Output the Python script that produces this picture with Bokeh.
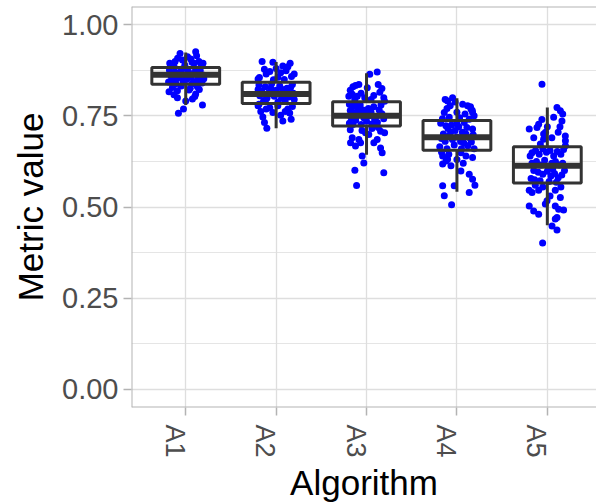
import math
from bokeh.plotting import figure
from bokeh.models import Range1d, FixedTicker, Span, NumeralTickFormatter, LinearAxis
from bokeh.embed import file_html
from bokeh.resources import INLINE

categories = ["A1", "A2", "A3", "A4", "A5"]

# Box statistics
q1 = [0.837, 0.784, 0.722, 0.656, 0.566]
median = [0.863, 0.810, 0.750, 0.691, 0.613]
q3 = [0.883, 0.842, 0.789, 0.737, 0.665]
whisker_lo = [0.780, 0.716, 0.643, 0.542, 0.450]
whisker_hi = [0.924, 0.898, 0.867, 0.798, 0.773]

# Jittered observations: (jitter offset, value)
a1_points = [
    (0.11, 0.926), (-0.063, 0.921), (-0.118, 0.899), (-0.177, 0.894), (-0.036, 0.903),
    (0.055, 0.906), (0.147, 0.899), (0.191, 0.894), (0.092, 0.894), (-0.15, 0.888),
    (0.17, 0.890), (0.02, 0.912), (-0.09, 0.908), (0.12, 0.915), (-0.01, 0.889),
    (0.07, 0.897), (-0.13, 0.886),
    (-0.18, 0.875), (-0.12, 0.87), (-0.05, 0.878), (0.03, 0.872), (0.1, 0.868),
    (0.16, 0.875), (0.19, 0.862), (-0.16, 0.858), (-0.08, 0.865), (0.0, 0.86),
    (0.06, 0.855), (0.13, 0.85), (-0.14, 0.848), (-0.03, 0.845), (0.09, 0.842),
    (0.18, 0.84), (-0.19, 0.843), (-0.1, 0.852), (0.04, 0.864), (0.15, 0.866),
    (-0.06, 0.87), (0.11, 0.878), (-0.17, 0.866), (0.01, 0.85), (-0.11, 0.838),
    (0.07, 0.838), (0.2, 0.852), (-0.02, 0.88), (0.14, 0.858), (-0.07, 0.856),
    (-0.185, 0.816), (-0.092, 0.819), (-0.092, 0.800), (0.036, 0.821), (0.11, 0.810),
    (0.074, 0.796), (0.0, 0.791), (-0.025, 0.769), (-0.081, 0.757), (0.185, 0.780),
    (-0.147, 0.828), (0.129, 0.830), (0.166, 0.842), (-0.05, 0.832), (0.05, 0.826),
    (-0.13, 0.808), (0.15, 0.822), (0.1, 0.803),
]
a2_points = [
    (-0.155, 0.899), (-0.036, 0.897), (0.155, 0.894), (0.2, 0.865), (0.074, 0.887),
    (-0.11, 0.865), (-0.185, 0.855), (0.11, 0.874), (-0.2, 0.851), (0.0, 0.88),
    (-0.07, 0.872), (0.05, 0.868), (0.17, 0.858), (-0.13, 0.878), (0.13, 0.885),
    (0.02, 0.856), (-0.03, 0.849), (0.09, 0.850),
    (-0.19, 0.835), (-0.12, 0.83), (-0.05, 0.838), (0.04, 0.832), (0.12, 0.826),
    (0.18, 0.836), (-0.16, 0.818), (-0.08, 0.814), (0.0, 0.82), (0.08, 0.81),
    (0.15, 0.815), (-0.18, 0.805), (-0.1, 0.8), (-0.02, 0.804), (0.06, 0.798),
    (0.14, 0.802), (0.2, 0.795), (-0.14, 0.79), (0.02, 0.788), (0.1, 0.79),
    (-0.06, 0.826), (0.16, 0.828), (-0.2, 0.822), (0.07, 0.822), (-0.04, 0.812),
    (0.11, 0.806), (-0.11, 0.796), (0.19, 0.812),
    (-0.2, 0.778), (-0.147, 0.747), (-0.103, 0.716), (-0.129, 0.732), (-0.036, 0.759),
    (0.074, 0.736), (0.166, 0.741), (0.129, 0.769), (0.019, 0.778), (-0.11, 0.769),
    (-0.19, 0.782), (0.18, 0.776), (0.05, 0.752), (-0.07, 0.772), (0.1, 0.762),
    (0.15, 0.758), (-0.17, 0.762),
]
a3_points = [
    (0.118, 0.870), (0.036, 0.864), (0.129, 0.836), (-0.122, 0.833), (-0.085, 0.836),
    (0.147, 0.815), (0.191, 0.800), (-0.158, 0.809), (-0.196, 0.804), (-0.103, 0.804),
    (0.008, 0.827), (-0.15, 0.83), (-0.18, 0.82), (-0.06, 0.812), (0.17, 0.825),
    (0.08, 0.806), (-0.13, 0.795), (0.05, 0.795), (0.2, 0.79), (-0.02, 0.80),
    (-0.19, 0.782), (-0.16, 0.775), (-0.13, 0.785), (-0.1, 0.77), (-0.18, 0.765),
    (-0.14, 0.758), (-0.11, 0.75), (-0.17, 0.745), (-0.12, 0.738), (-0.19, 0.73),
    (-0.07, 0.78), (-0.04, 0.766), (-0.01, 0.755), (0.02, 0.77), (0.05, 0.76),
    (0.08, 0.775), (0.11, 0.748), (0.14, 0.766), (0.17, 0.756), (0.19, 0.742),
    (0.0, 0.735), (0.06, 0.728), (-0.06, 0.726), (0.12, 0.732), (-0.15, 0.726),
    (0.16, 0.78), (-0.03, 0.745), (0.09, 0.74), (-0.08, 0.76), (0.03, 0.75),
    (-0.158, 0.690), (-0.177, 0.676), (-0.122, 0.667), (-0.066, 0.676), (0.025, 0.699),
    (0.118, 0.685), (0.155, 0.708), (0.081, 0.676), (0.2, 0.704), (0.155, 0.662),
    (0.173, 0.649), (-0.048, 0.640), (-0.03, 0.621), (-0.129, 0.601), (0.191, 0.594),
    (-0.11, 0.559), (-0.085, 0.685), (-0.011, 0.704), (-0.18, 0.712), (0.06, 0.715),
    (0.13, 0.718), (-0.05, 0.71),
]
a4_points = [
    (-0.048, 0.800), (-0.103, 0.791), (-0.074, 0.778), (0.063, 0.782), (0.118, 0.778),
    (0.155, 0.769), (0.173, 0.759), (-0.14, 0.759), (-0.085, 0.746), (0.136, 0.741),
    (-0.13, 0.795), (0.15, 0.775), (0.17, 0.765), (-0.11, 0.77), (0.0, 0.76),
    (0.09, 0.755), (-0.02, 0.788), (0.03, 0.745), (-0.16, 0.742), (0.19, 0.75),
    (0.081, 0.732), (-0.122, 0.723), (0.173, 0.714), (-0.18, 0.73), (-0.15, 0.70),
    (-0.1, 0.715), (-0.06, 0.725), (-0.02, 0.71), (0.02, 0.72), (0.06, 0.705),
    (0.1, 0.70), (0.14, 0.69), (0.18, 0.698), (-0.17, 0.688), (-0.13, 0.68),
    (-0.09, 0.695), (-0.05, 0.685), (0.0, 0.692), (0.04, 0.68), (0.08, 0.675),
    (0.12, 0.668), (0.16, 0.678), (-0.19, 0.665), (-0.11, 0.66), (-0.03, 0.67),
    (0.05, 0.66), (0.11, 0.718), (-0.07, 0.705), (0.19, 0.66), (0.0, 0.728),
    (-0.158, 0.640), (-0.103, 0.631), (-0.066, 0.613), (-0.158, 0.618), (0.173, 0.636),
    (0.044, 0.599), (0.136, 0.590), (0.173, 0.576), (0.199, 0.560), (0.136, 0.540),
    (-0.158, 0.558), (-0.03, 0.558), (-0.14, 0.531), (-0.059, 0.506), (0.044, 0.649),
    (0.1, 0.640), (-0.12, 0.626), (-0.17, 0.65), (0.0, 0.63), (0.07, 0.62),
    (-0.09, 0.645),
]
a5_points = [
    (-0.059, 0.837), (0.107, 0.773), (0.144, 0.764), (0.162, 0.736), (0.07, 0.746),
    (-0.096, 0.727), (-0.114, 0.718), (-0.2, 0.714), (-0.041, 0.700), (0.199, 0.695),
    (0.2, 0.682), (-0.041, 0.686), (0.2, 0.668), (-0.077, 0.673), (0.0, 0.72),
    (-0.02, 0.705), (0.12, 0.705), (-0.15, 0.69), (0.05, 0.69), (0.17, 0.755),
    (-0.06, 0.74), (0.14, 0.72),
    (-0.169, 0.649), (-0.19, 0.64), (-0.13, 0.655), (-0.09, 0.645), (-0.05, 0.66),
    (-0.01, 0.65), (0.03, 0.655), (0.07, 0.64), (0.11, 0.652), (0.15, 0.645),
    (0.18, 0.658), (-0.17, 0.62), (-0.12, 0.625), (-0.07, 0.615), (-0.03, 0.628),
    (0.01, 0.61), (0.05, 0.62), (0.09, 0.625), (0.13, 0.615), (0.17, 0.62),
    (-0.15, 0.6), (-0.1, 0.595), (-0.05, 0.59), (0.0, 0.598), (0.04, 0.585),
    (0.08, 0.592), (0.12, 0.58), (0.16, 0.588), (-0.18, 0.578), (-0.08, 0.572),
    (0.02, 0.57), (0.1, 0.568), (0.19, 0.6), (-0.14, 0.575), (0.06, 0.605),
    (-0.2, 0.546), (-0.169, 0.540), (-0.096, 0.546), (0.088, 0.546), (-0.003, 0.517),
    (-0.022, 0.508), (0.088, 0.503), (0.125, 0.494), (-0.2, 0.503), (0.18, 0.492),
    (-0.096, 0.480), (0.107, 0.471), (0.088, 0.467), (0.052, 0.448), (0.107, 0.437),
    (-0.052, 0.401), (-0.151, 0.489), (0.144, 0.526), (-0.133, 0.56), (0.03, 0.53),
    (-0.05, 0.555), (0.15, 0.555),
]
group_points = [a1_points, a2_points, a3_points, a4_points, a5_points]

y_ticks = [0.0, 0.25, 0.5, 0.75, 1.0]
y_minor = [0.125, 0.375, 0.625, 0.875]

BORDER = "#B3B3B3"
GRID = "#DEDEDE"
BOX = "#333333"
FONT = "Liberation Sans"
LABEL_SHIFT = 0.12  # rotated category labels sit left of their tick

p = figure(width=596, height=504,
           x_range=Range1d(0.4, 5.544), y_range=Range1d(-0.05, 1.05),
           output_backend="svg", toolbar_location=None,
           min_border_left=131, min_border_right=0,
           min_border_top=6, min_border_bottom=97)
p.outline_line_color = None
p.background_fill_color = "white"
p.border_fill_color = "white"

xpos = list(range(1, len(categories) + 1))

# grid
p.xgrid.ticker = FixedTicker(ticks=xpos)
p.ygrid.ticker = FixedTicker(ticks=y_ticks, minor_ticks=y_minor)
p.grid.grid_line_color = GRID
p.grid.grid_line_width = 1.3
p.ygrid.minor_grid_line_color = GRID
p.ygrid.minor_grid_line_width = 0.8

# points
xs, ys = [], []
for i, pts in enumerate(group_points):
    for off, v in pts:
        xs.append(xpos[i] + off)
        ys.append(v)
p.scatter(xs, ys, size=7, fill_color="#0000FF", line_color=None)

# boxes
half = 0.375
p.quad(left=[x - half for x in xpos], right=[x + half for x in xpos],
       bottom=q1, top=q3, fill_color=None, line_color=BOX, line_width=3)
p.segment(x0=xpos, y0=q3, x1=xpos, y1=whisker_hi, line_color=BOX, line_width=3)
p.segment(x0=xpos, y0=q1, x1=xpos, y1=whisker_lo, line_color=BOX, line_width=3)
p.segment(x0=[x - half for x in xpos], y0=median, x1=[x + half for x in xpos], y1=median,
          line_color=BOX, line_width=6)

# panel border (right side is cropped in the reference)
p.add_layout(Span(location=1.05, dimension="width", line_color=BORDER, line_width=2))
p.add_layout(Span(location=-0.05, dimension="width", line_color=BORDER, line_width=2))
p.add_layout(Span(location=0.4, dimension="height", line_color=BORDER, line_width=2))

# y axis
p.yaxis.ticker = FixedTicker(ticks=y_ticks)
p.yaxis.formatter = NumeralTickFormatter(format="0.00")
p.yaxis.axis_label = "Metric value"

# x axis: first axis carries only the tick marks
xa = p.xaxis[0]
xa.ticker = FixedTicker(ticks=xpos)
xa.major_label_overrides = {x: " " for x in xpos}
xa.major_label_text_font_size = "1px"
xa.major_label_standoff = 0

# second axis carries the rotated category labels and the title
xl = LinearAxis(ticker=FixedTicker(ticks=[x - LABEL_SHIFT for x in xpos]))
xl.major_label_overrides = {x - LABEL_SHIFT: c for x, c in zip(xpos, categories)}
xl.major_label_orientation = -math.pi / 2
xl.major_tick_line_color = None
xl.major_tick_out = 0
xl.major_tick_in = 0
xl.axis_label = "Algorithm"
p.add_layout(xl, "below")

for ax in (xa, xl, p.yaxis[0]):
    ax.axis_line_color = None
    ax.minor_tick_line_color = None
    ax.axis_label_text_font = FONT
    ax.axis_label_text_font_size = "35px"
    ax.axis_label_text_font_style = "normal"
    ax.axis_label_text_color = "black"
    ax.major_label_text_color = "#4D4D4D"
    ax.major_label_text_font = FONT
for ax in (xa, p.yaxis[0]):
    ax.major_tick_line_color = BORDER
    ax.major_tick_line_width = 1.5
    ax.major_tick_out = 8
    ax.major_tick_in = 0
p.yaxis.major_label_text_font_size = "29px"
xl.major_label_text_font_size = "27px"
p.yaxis.major_label_standoff = 5
xl.major_label_standoff = 5
p.yaxis.axis_label_standoff = 9
xl.axis_label_standoff = 2

open("out.html", "w").write(file_html(p, INLINE))
